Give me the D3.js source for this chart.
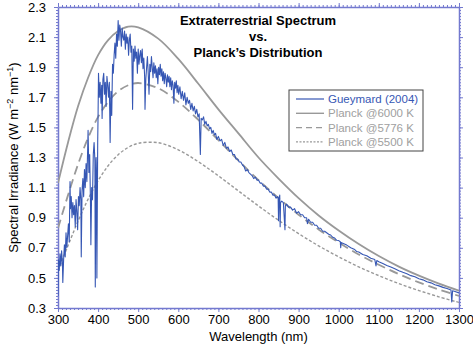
<!DOCTYPE html>
<html>

<head>
	<meta charset='utf-8'>
	<title>Extraterrestrial Spectrum vs Planck</title>
	<script src='https://cdn.jsdelivr.net/npm/d3@7'></script>
	<style>
		body { margin: 0; background: #fff; }
		text { font-family: 'Liberation Sans', Arial, sans-serif; }
	</style>
</head>

<body>
	<svg width='473' height='347'></svg>
	<script>
		// tick values
		const xTicks = [300, 400, 500, 600, 700, 800, 900, 1000, 1100, 1200, 1300]
		const yTicks = [0.3, 0.5, 0.7, 0.9, 1.1, 1.3, 1.5, 1.7, 1.9, 2.1, 2.3]

		// Planck curves (nm, W m-2 nm-1)
		const planckWl = [300, 325, 350, 375, 400, 425, 450, 475, 500, 550, 600, 650, 700, 750, 800, 850, 900, 950, 1000, 1050, 1100, 1150, 1200, 1250, 1300]
		const planck6000 = [1.13, 1.40, 1.64, 1.83, 1.98, 2.08, 2.14, 2.17, 2.165, 2.09, 1.955, 1.79, 1.62, 1.46, 1.30, 1.16, 1.03, 0.915, 0.815, 0.725, 0.645, 0.575, 0.515, 0.462, 0.415]
		const planck5776 = [0.83, 1.05, 1.255, 1.43, 1.57, 1.67, 1.74, 1.78, 1.795, 1.76, 1.67, 1.55, 1.415, 1.28, 1.15, 1.03, 0.92, 0.822, 0.735, 0.656, 0.587, 0.525, 0.47, 0.423, 0.38]
		const planck5500 = [0.55, 0.715, 0.877, 1.023, 1.146, 1.245, 1.318, 1.367, 1.394, 1.398, 1.351, 1.272, 1.178, 1.078, 0.978, 0.883, 0.794, 0.713, 0.64, 0.573, 0.515, 0.462, 0.416, 0.374, 0.337]

		// Gueymard (2004) extraterrestrial spectrum
		const gueymard = [
			[300, 0.38], [301, 0.62], [303, 0.55], [305, 0.66], [307, 0.58], [309, 0.68], [311, 0.60], [312, 0.47],
			[314, 0.62], [316, 0.72], [318, 0.64], [320, 0.80], [322, 0.70], [324, 0.78], [326, 0.86], [328, 0.74],
			[330, 1.14], [331, 0.96], [333, 1.04], [335, 0.90], [337, 1.00], [339, 0.92], [341, 0.98], [343, 0.84],
			[345, 1.02], [347, 0.94], [349, 0.82], [351, 1.04], [353, 0.98], [355, 1.10], [357, 1.02], [358, 0.64],
			[360, 1.08], [362, 1.16], [364, 1.04], [366, 1.22], [368, 1.10], [370, 1.26], [372, 1.14], [374, 1.36],
			[375, 1.48], [377, 1.20], [379, 1.32], [381, 1.00], [382, 0.72], [384, 1.10], [386, 1.02], [388, 1.32],
			[390, 1.40], [392, 1.28], [393, 0.44], [395, 1.30], [396, 1.20], [397, 0.50], [399, 1.40], [400, 1.60],
			[401, 1.86], [403, 1.70], [405, 1.80], [407, 1.66], [409, 1.78], [410, 1.56], [412, 1.82], [414, 1.86],
			[416, 1.72], [418, 1.80], [420, 1.64], [422, 1.84], [424, 1.78], [426, 1.70], [428, 1.80], [430, 1.40],
			[432, 1.74], [434, 1.58], [436, 1.92], [438, 1.86], [440, 1.98], [442, 2.06], [444, 1.96], [446, 2.12],
			[448, 2.04], [450, 2.21], [452, 2.08], [454, 2.18], [456, 2.14], [458, 2.04], [460, 2.16], [462, 2.10],
			[464, 2.08], [466, 2.14], [468, 2.02], [470, 2.12], [472, 2.06], [474, 2.10], [476, 1.98], [478, 2.08],
			[480, 2.12], [482, 2.00], [484, 2.04], [486, 1.62], [488, 2.02], [490, 1.94], [492, 2.04], [494, 1.96],
			[496, 2.00], [498, 1.86], [500, 2.02], [502, 1.92], [504, 1.98], [506, 2.01], [508, 1.93], [510, 2.02],
			[512, 1.89], [514, 1.96], [516, 1.84], [517, 1.62], [519, 1.82], [521, 1.90], [523, 1.97], [525, 1.86],
			[527, 1.72], [529, 1.92], [531, 1.87], [533, 1.97], [535, 1.90], [537, 1.83], [539, 1.93], [541, 1.86],
			[543, 1.91], [545, 1.83], [547, 1.89], [549, 1.79], [551, 1.90], [553, 1.85], [555, 1.92], [557, 1.84],
			[559, 1.89], [561, 1.81], [563, 1.87], [565, 1.79], [567, 1.86], [569, 1.83], [571, 1.77], [573, 1.85],
			[575, 1.80], [577, 1.84], [579, 1.77], [581, 1.83], [583, 1.75], [585, 1.81], [587, 1.78], [589, 1.66],
			[591, 1.80], [593, 1.76], [595, 1.81], [597, 1.73], [599, 1.78], [601, 1.72], [604, 1.77], [607, 1.69],
			[610, 1.74], [613, 1.68], [616, 1.73], [619, 1.65], [622, 1.70], [625, 1.66], [628, 1.68], [631, 1.62],
			[634, 1.66], [637, 1.61], [640, 1.64], [643, 1.59], [646, 1.62], [649, 1.57], [652, 1.59], [655, 1.32],
			[657, 1.56], [660, 1.55], [663, 1.57], [666, 1.52], [669, 1.54], [672, 1.51], [675, 1.52], [678, 1.49],
			[681, 1.50], [684, 1.46], [687, 1.48], [690, 1.45], [693, 1.46], [696, 1.42], [700, 1.44], [704, 1.41],
			[708, 1.42], [712, 1.38], [716, 1.40], [720, 1.36], [724, 1.37], [728, 1.34], [732, 1.35], [736, 1.32],
			[740, 1.32], [744, 1.29], [748, 1.29], [752, 1.27], [756, 1.27], [760, 1.25], [764, 1.24], [768, 1.21],
			[772, 1.22], [776, 1.20], [780, 1.19], [784, 1.18], [788, 1.16], [792, 1.17], [796, 1.15], [800, 1.15],
			[804, 1.13], [808, 1.13], [812, 1.11], [816, 1.11], [820, 1.09], [824, 1.09], [828, 1.07], [832, 1.07],
			[836, 1.05], [840, 1.05], [844, 1.03], [848, 1.04], [849, 1.03], [850, 0.88], [851, 1.02], [853, 1.05],
			[854, 0.84], [855, 1.00], [858, 1.01], [862, 1.00], [866, 0.82], [867, 0.98], [870, 0.99], [875, 0.97],
			[880, 0.97], [885, 0.95], [890, 0.96], [895, 0.93], [900, 0.94], [905, 0.92], [910, 0.92], [915, 0.90],
			[920, 0.90], [922, 0.86], [925, 0.89], [930, 0.87], [935, 0.87], [940, 0.85], [945, 0.85], [950, 0.83],
			[955, 0.83], [960, 0.81], [965, 0.81], [970, 0.80], [975, 0.79], [980, 0.785], [985, 0.77], [990, 0.765],
			[995, 0.75], [1000, 0.748], [1004, 0.74], [1005, 0.70], [1006, 0.735], [1010, 0.73], [1020, 0.718], [1030, 0.70],
			[1040, 0.688], [1045, 0.675], [1050, 0.672], [1060, 0.655], [1070, 0.647], [1080, 0.63], [1090, 0.622], [1093, 0.58],
			[1095, 0.615], [1100, 0.607], [1110, 0.595], [1120, 0.582], [1130, 0.572], [1140, 0.56], [1150, 0.548], [1160, 0.537],
			[1170, 0.527], [1180, 0.515], [1190, 0.507], [1200, 0.495], [1210, 0.487], [1220, 0.475], [1230, 0.467], [1240, 0.455],
			[1250, 0.447], [1260, 0.437], [1270, 0.43], [1280, 0.42], [1282, 0.34], [1284, 0.415], [1290, 0.41], [1300, 0.40]
		]

		const legendNames = ['Gueymard (2004)', 'Planck @6000 K', 'Planck @5776 K', 'Planck @5500 K']

		const margin = ({ top: 7, right: 14, bottom: 39, left: 58 })
		const svg = d3.select('svg')
		const width = +svg.attr('width')
		const height = +svg.attr('height')
		const axisColor = '#7379cf'

		const x = d3.scaleLinear().domain([300, 1300]).range([margin.left, width - margin.right])
		const y = d3.scaleLinear().domain([0.3, 2.3]).range([height - margin.bottom, margin.top])

		svg.append('clipPath').attr('id', 'clip').append('rect')
			.attr('x', margin.left).attr('y', margin.top)
			.attr('width', width - margin.left - margin.right)
			.attr('height', height - margin.top - margin.bottom)

		// frame + ticks on all four sides
		function styleAxis(g) {
			g.selectAll('.domain').attr('stroke', axisColor).attr('stroke-width', 1.5)
			g.selectAll('.tick line').attr('stroke', axisColor)
			g.selectAll('.tick text').attr('fill', '#000').attr('font-size', 13)
				.attr('font-family', "'Liberation Sans', Arial, sans-serif")
		}
		const xMinor = d3.range(300, 1301, 10)
		const yMinor = d3.range(0.3, 2.301, 0.02)

		const gx = svg.append('g').attr('transform', `translate(0,${height - margin.bottom})`)
		gx.call(d3.axisBottom(x).tickValues(xMinor).tickSize(2).tickFormat('').tickSizeOuter(0))
		gx.call(g => g.selectAll('.domain').remove())
		gx.append('g').call(d3.axisBottom(x).tickValues(xTicks).tickSize(4).tickPadding(3).tickFormat(d3.format('d')).tickSizeOuter(0))
		styleAxis(gx)

		const gxt = svg.append('g').attr('transform', `translate(0,${margin.top})`)
		gxt.call(d3.axisTop(x).tickValues(xMinor).tickSize(2).tickFormat('').tickSizeOuter(0))
		gxt.call(g => g.selectAll('.domain').remove())
		gxt.append('g').call(d3.axisTop(x).tickValues(xTicks).tickSize(4).tickFormat('').tickSizeOuter(0))
		styleAxis(gxt)

		const gy = svg.append('g').attr('transform', `translate(${margin.left},0)`)
		gy.call(d3.axisLeft(y).tickValues(yMinor).tickSize(2).tickFormat('').tickSizeOuter(0))
		gy.call(g => g.selectAll('.domain').remove())
		gy.append('g').call(d3.axisLeft(y).tickValues(yTicks).tickSize(4).tickPadding(8).tickFormat(d3.format('.1f')).tickSizeOuter(0))
		styleAxis(gy)

		const gyr = svg.append('g').attr('transform', `translate(${width - margin.right},0)`)
		gyr.call(d3.axisRight(y).tickValues(yMinor).tickSize(2).tickFormat('').tickSizeOuter(0))
		gyr.call(g => g.selectAll('.domain').remove())
		gyr.append('g').call(d3.axisRight(y).tickValues(yTicks).tickSize(4).tickFormat('').tickSizeOuter(0))
		styleAxis(gyr)

		// axis titles
		svg.append('text')
			.attr('x', (margin.left + width - margin.right) / 2)
			.attr('y', height - 6)
			.attr('text-anchor', 'middle')
			.attr('font-size', 13)
			.text('Wavelength (nm)')

		const yl = svg.append('text')
			.attr('transform', `translate(18,${(margin.top + height - margin.bottom) / 2}) rotate(-90)`)
			.attr('text-anchor', 'middle')
			.attr('font-size', 13)
		yl.append('tspan').text('Spectral Irradiance (W m')
		yl.append('tspan').attr('font-size', 9).attr('dy', -5).text('\u22122')
		yl.append('tspan').attr('dy', 5).text(' nm')
		yl.append('tspan').attr('font-size', 9).attr('dy', -5).text('\u22121')
		yl.append('tspan').attr('dy', 5).text(')')

		// curves
		const plot = svg.append('g').attr('clip-path', 'url(#clip)')
		const smooth = d3.line().x(d => x(d[0])).y(d => y(d[1])).curve(d3.curveCatmullRom)
		const raw = d3.line().x(d => x(d[0])).y(d => y(d[1]))

		const planckSeries = [
			{ vals: planck6000, dash: null, width: 1.8 },
			{ vals: planck5776, dash: '9,5', width: 1.8 },
			{ vals: planck5500, dash: '3,2', width: 1.4 }
		]
		planckSeries.forEach(s => {
			plot.append('path')
				.datum(planckWl.map((w, i) => [w, s.vals[i]]))
				.attr('fill', 'none')
				.attr('stroke', '#999')
				.attr('stroke-width', s.width)
				.attr('stroke-dasharray', s.dash)
				.attr('d', smooth)
		})

		plot.append('path')
			.datum(gueymard)
			.attr('fill', 'none')
			.attr('stroke', '#3657b4')
			.attr('stroke-width', 1.1)
			.attr('stroke-linejoin', 'round')
			.attr('d', raw)

		// title
		const title = ['Extraterrestrial Spectrum', 'vs.', 'Planck\u2019s Distribution']
		svg.append('g').selectAll('text').data(title).join('text')
			.attr('x', 258)
			.attr('y', (d, i) => 25 + i * 16)
			.attr('text-anchor', 'middle')
			.attr('font-size', 13)
			.attr('font-weight', 'bold')
			.text(d => d)

		// legend
		const lg = svg.append('g').attr('transform', 'translate(289,90)')
		lg.append('rect').attr('width', 134).attr('height', 61)
			.attr('fill', '#fff').attr('stroke', '#444').attr('stroke-width', 1)
		const lgStyle = [
			{ color: '#3657b4', dash: null, w: 1.2, text: '#3657b4' },
			{ color: '#999', dash: null, w: 1.4, text: '#a0a0a0' },
			{ color: '#999', dash: '6,4', w: 1.4, text: '#a0a0a0' },
			{ color: '#999', dash: '2,1.5', w: 1.2, text: '#a0a0a0' }
		]
		legendNames.forEach((name, i) => {
			const row = lg.append('g').attr('transform', `translate(0,${9 + i * 14.3})`)
			row.append('line').attr('x1', 7).attr('x2', 35)
				.attr('stroke', lgStyle[i].color).attr('stroke-width', lgStyle[i].w)
				.attr('stroke-dasharray', lgStyle[i].dash)
			row.append('text').attr('x', 39).attr('y', 4)
				.attr('font-size', 11.5).attr('fill', lgStyle[i].text).text(name)
		})
	</script>
</body>

</html>
